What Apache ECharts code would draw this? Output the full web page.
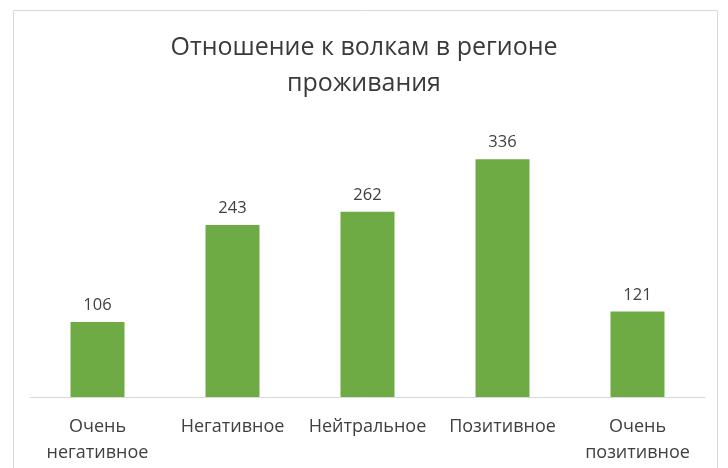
<!DOCTYPE html>
<html>
<head>
<meta charset="utf-8">
<script src="https://cdn.jsdelivr.net/npm/echarts@6/dist/echarts.min.js"></script>
<style>
html,body{margin:0;padding:0;background:#fff;}
#chart{width:728px;height:468px;}
</style>
</head>
<body>
<div id="chart"></div>
<script>
const titleText = 'Отношение к волкам в регионе\nпроживания';
const categories = ['Очень\nнегативное', 'Негативное', 'Нейтральное', 'Позитивное', 'Очень\nпозитивное'];
const values = [106, 243, 262, 336, 121];

const chart = echarts.init(document.getElementById('chart'));
chart.setOption({
  animation: false,
  backgroundColor: '#ffffff',
  graphic: [{
    type: 'rect',
    shape: {x: 13.5, y: 10.5, width: 704, height: 470},
    style: {fill: 'none', stroke: '#d9d9d9', lineWidth: 1},
    silent: true
  }],
  title: {
    text: titleText,
    left: 'center',
    top: 25,
    textStyle: {
      fontFamily: 'Open Sans',
      fontSize: 25,
      fontWeight: 'normal',
      color: '#3a3a3a',
      lineHeight: 36
    }
  },
  grid: {left: 30, right: 23, top: 114, bottom: 71, containLabel: false},
  xAxis: {
    type: 'category',
    data: categories,
    axisLine: {lineStyle: {color: '#d9d9d9', width: 1}},
    axisTick: {show: false},
    axisLabel: {
      fontFamily: 'Open Sans',
      fontSize: 18,
      color: '#404040',
      lineHeight: 26,
      margin: 17,
      interval: 0
    }
  },
  yAxis: {
    type: 'value',
    min: 0,
    max: 400,
    show: false,
    splitLine: {show: false}
  },
  series: [{
    type: 'bar',
    data: values,
    barWidth: 54,
    itemStyle: {color: '#6eab45'},
    label: {
      show: true,
      position: 'top',
      distance: 8,
      fontFamily: 'Open Sans',
      fontSize: 16.5,
      color: '#404040'
    }
  }]
});
</script>
</body>
</html>
